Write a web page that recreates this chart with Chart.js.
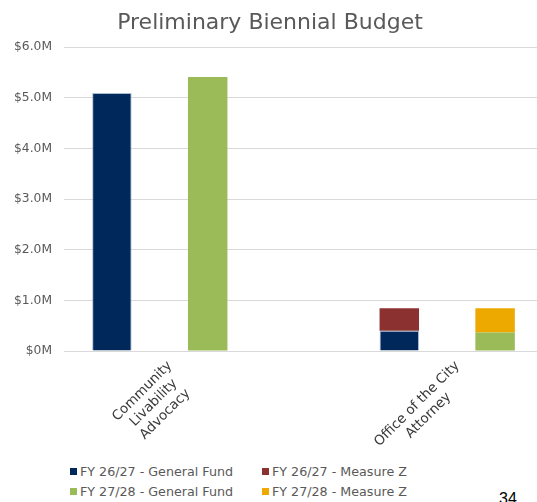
<!DOCTYPE html>
<html>
<head>
<meta charset="utf-8">
<script src="https://cdn.jsdelivr.net/npm/chart.js@4/dist/chart.umd.min.js"></script>
<style>
  html, body { margin: 0; padding: 0; background: #fff; overflow: hidden; }
  #wrap { position: relative; width: 537px; height: 502px; overflow: hidden; background: #fff; }
  #c { position: absolute; left: 0; top: 0; }
  #title { position: absolute; left: 0; top: 9px; width: 540px; text-align: center;
           font: 22px "DejaVu Sans", sans-serif; color: #595959; white-space: nowrap; }
  #legend { position: absolute; left: 70px; top: 461px; display: grid;
            grid-template-columns: 192px auto; grid-auto-rows: 20px;
            font: 12.7px "DejaVu Sans", sans-serif; color: #595959; }
  #legend .item { display: flex; align-items: center; white-space: nowrap; }
  #legend .box { width: 7px; height: 7px; margin-right: 3px; flex: none; }
  #page { position: absolute; left: 499px; top: 490px; font: 16px "Liberation Sans", Arial, sans-serif; color: #000; }
</style>
</head>
<body>
<div id="wrap">
  <canvas id="c" width="560" height="450"></canvas>
  <div id="title">Preliminary Biennial Budget</div>
  <div id="legend"></div>
  <div id="page">34</div>
</div>
<script>
// ---- data (values in $ millions) ----
const categories = ['Community Livability Advocacy', 'Office of the City Attorney'];
const categoryLabelLines = [['Community', 'Livability', 'Advocacy'], ['Office of the City', 'Attorney']];
const gf2627 = [5.09, 0.40];   // FY 26/27 - General Fund
const mz2627 = [0, 0.446];     // FY 26/27 - Measure Z
const gf2728 = [5.41, 0.366];  // FY 27/28 - General Fund
const mz2728 = [0, 0.48];      // FY 27/28 - Measure Z
const seriesNames = ['FY 26/27 - General Fund', 'FY 26/27 - Measure Z', 'FY 27/28 - General Fund', 'FY 27/28 - Measure Z'];
const seriesColors = ['#00285A', '#8B3230', '#9BBB59', '#EEA900'];
const yTickLabels = ['$0M', '$1.0M', '$2.0M', '$3.0M', '$4.0M', '$5.0M', '$6.0M'];

// Slot layout: [cat0 FY26/27, cat0 FY27/28, gap, cat1 FY26/27, cat1 FY27/28]
const SLOT_COUNT = 5;
const slotOf = (cat, year) => cat * 3 + year;
function slotData(values, year) {
  const d = new Array(SLOT_COUNT).fill(null);
  values.forEach((v, i) => { d[slotOf(i, year)] = v; });
  return d;
}
const slotLabels = new Array(SLOT_COUNT).fill('');
categoryLabelLines.forEach((lines, i) => { slotLabels[slotOf(i, 0)] = lines; });

const seriesValues = [gf2627, mz2627, gf2728, mz2728];
const seriesYear = [0, 0, 1, 1];

const datasets = seriesValues.map((vals, i) => ({
  label: seriesNames[i],
  data: slotData(vals, seriesYear[i]),
  backgroundColor: seriesColors[i],
  borderColor: i === 0 ? 'rgba(150,170,200,0.8)' : seriesColors[i],
  borderWidth: i === 0 ? 1 : 0,
  categoryPercentage: 1,
  barPercentage: 0.412
}));

// Center the lines of rotated multi-line category labels (as in the original)
const centerRotatedLabels = {
  id: 'centerRotatedLabels',
  beforeDraw(chart) {
    const scale = chart.scales.x;
    const items = scale.getLabelItems(chart.chartArea);
    const ctx = chart.ctx;
    items.forEach(item => {
      if (item._centered) return;
      const lines = Array.isArray(item.label) ? item.label : [item.label];
      ctx.save();
      ctx.font = item.font.string;
      const w = Math.max(...lines.map(l => ctx.measureText(l).width));
      ctx.restore();
      const r = item.options.rotation;
      item.options.translation[0] -= Math.cos(r) * w / 2;
      item.options.translation[1] -= Math.sin(r) * w / 2;
      item.options.textAlign = 'center';
      item._centered = true;
    });
  }
};

new Chart(document.getElementById('c'), {
  type: 'bar',
  data: { labels: slotLabels, datasets },
  plugins: [centerRotatedLabels],
  options: {
    responsive: false,
    animation: false,
    devicePixelRatio: 1,
    layout: { padding: { top: 47, right: 17, bottom: 0, left: 0 } },
    plugins: { legend: { display: false }, title: { display: false }, tooltip: { enabled: false } },
    scales: {
      x: {
        stacked: true,
        grid: { display: false, drawTicks: false },
        border: { display: false },
        ticks: {
          autoSkip: false, minRotation: 45, maxRotation: 45, padding: 7, labelOffset: 58,
          font: { family: 'DejaVu Sans', size: 13.5 }, color: '#3a3a3a'
        },
        afterFit(scale) { scale.height = 99; }
      },
      y: {
        stacked: true,
        min: 0, max: 6,
        grid: { color: '#d9d9d9', lineWidth: 1, drawTicks: false },
        border: { display: false },
        ticks: {
          stepSize: 1, padding: 12,
          font: { family: 'DejaVu Sans', size: 12.3 }, color: '#595959',
          callback: (v, i) => yTickLabels[i]
        },
        afterFit(scale) { scale.width = 64; }
      }
    }
  }
});

// legend (built from series arrays)
const legend = document.getElementById('legend');
[0, 1, 2, 3].forEach(i => {
  const item = document.createElement('div');
  item.className = 'item';
  const box = document.createElement('span');
  box.className = 'box';
  box.style.background = seriesColors[i];
  const txt = document.createElement('span');
  txt.textContent = seriesNames[i];
  item.appendChild(box); item.appendChild(txt);
  legend.appendChild(item);
});
</script>
</body>
</html>
